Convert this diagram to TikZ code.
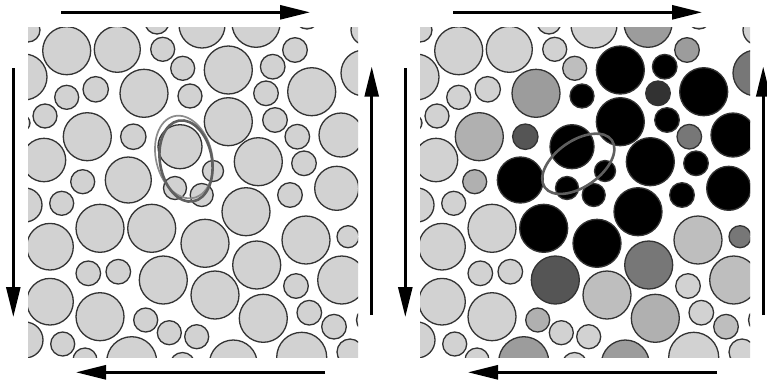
\documentclass[tikz,border=0pt]{standalone}
\usetikzlibrary{arrows.meta}
\definecolor{cL}{RGB}{210,210,210}
\definecolor{cK}{RGB}{0,0,0}
\definecolor{cD}{RGB}{85,85,85}
\definecolor{cDD}{RGB}{50,50,50}
\definecolor{cDT}{RGB}{119,119,119}
\definecolor{cM}{RGB}{156,156,156}
\definecolor{cMT}{RGB}{176,176,176}
\definecolor{cMS}{RGB}{190,190,190}
\definecolor{ringdark}{RGB}{95,95,95}
\definecolor{ringlight}{RGB}{140,140,140}
\begin{document}
\begin{tikzpicture}[x=1pt,y=-1pt,
  disk/.style={draw=black!80, line width=1.3pt},
  flow/.style={line width=2.6pt, -{Triangle[length=30pt,width=14pt]}},
  ring/.style={draw=ringdark, line width=2.6pt},
  thinring/.style={draw=ringlight, line width=1.7pt}]
\useasboundingbox (0,0) rectangle (767,384);
\fill[white] (0,0) rectangle (767,384);
\def\disks{28/30/12/L, 66.7/50.7/24/L, 117.3/49.3/23/L, 157/22/12/L, 162.7/49.3/12/L,
 182.7/68.3/12/MS, 202/25/23/L, 256/23.3/24/M, 307/17/12/L, 366/30/15/L, 295/50/12.3/M,
 24/77/23/L, 228.3/70/24/K, 272.7/66.7/12.3/K, 364/73/23/DT, 66.7/97.3/12/L,
 95.7/89.3/12.7/L, 144/93.3/24/M, 190/96/12/K, 266/93.3/12.3/DD, 311.7/91.7/24/K,
 45/116/12/L, 22/123/8/L, 87.3/136.7/24/MT, 133.3/136.7/12.7/D, 180/146.7/22/K,
 228.3/121.7/24/K, 275/120/12.3/K, 297.3/136.7/12.3/DT, 341/135/22/K, 44/160/21.7/L,
 82.7/181.7/12/MT, 128.3/180/23/K, 175/188/11.5/K, 201.7/195/11.5/K, 213/171/10.5/K,
 258.3/161.7/24/K, 304/163.3/12.3/K, 336.7/188.3/22/K, 61.7/203.3/12/L, 25/205/17/L,
 100/228.3/24/L, 151.7/228.3/24/K, 246/211.7/24/K, 290/195/12.3/K, 205/243.3/24/K,
 306/240/24/MS, 348/236.7/11/DT, 50/246.7/23.3/L, 88.3/273.3/12.3/L, 118.3/271.7/12.3/L,
 163.3/280/24/D, 256.7/265/24/DT, 341.7/280/24/MS, 296/286/12.3/L, 50/301.7/23.3/L,
 100/316.7/24/L, 215/295/24/MS, 145.7/320/12/MT, 169.3/332.7/12/L, 196.7/336.7/12/L,
 263.3/318.3/24/MT, 309.3/312.7/12.3/L, 334/326.7/12.3/MS, 369/320/12.5/L, 25/340/18/L,
 62.7/344/12/L, 85/360/12/L, 131.7/361.7/25/M, 182.5/365/12.5/L, 233.3/364/24/M,
 301.7/357.3/25/L, 350/352/13/L}
% left panel
\begin{scope}
  \clip (28,27) rectangle (358,357);
  \foreach \cx/\cy/\rr/\col in \disks {\draw[disk, fill=cL] (\cx,\cy) circle[radius=\rr pt];}
  \draw[thinring, rotate around={14:(184,157)}] (184,157) ellipse[x radius=28pt, y radius=42pt];
  \draw[ring, rotate around={10:(186,161)}] (186,161) ellipse[x radius=26pt, y radius=41pt];
\end{scope}
% right panel
\begin{scope}[shift={(392,0)}]
  \clip (28,27) rectangle (358,357);
  \foreach \cx/\cy/\rr/\col in \disks {\draw[disk, fill=c\col] (\cx,\cy) circle[radius=\rr pt];}
  \draw[ring, rotate around={35:(186.3,163.8)}] (186.3,163.8) ellipse[x radius=41pt, y radius=23pt];
\end{scope}
% arrows
\coordinate (ta1) at (61,12.3);   \coordinate (tb1) at (310,12.3);
\coordinate (la1) at (13.3,68);   \coordinate (lb1) at (13.3,317);
\coordinate (ba1) at (325,372.3); \coordinate (bb1) at (76,372.3);
\coordinate (ra1) at (371.7,315); \coordinate (rb1) at (371.7,66.7);
\coordinate (ta2) at (453,12.3);  \coordinate (tb2) at (702,12.3);
\coordinate (la2) at (405.3,68);  \coordinate (lb2) at (405.3,317);
\coordinate (ba2) at (717,372.3); \coordinate (bb2) at (468,372.3);
\coordinate (ra2) at (763.2,315); \coordinate (rb2) at (763.2,66.7);
\draw[flow] (ta1) -- (tb1);
\draw[flow] (la1) -- (lb1);
\draw[flow] (ba1) -- (bb1);
\draw[flow] (ra1) -- (rb1);
\draw[flow] (ta2) -- (tb2);
\draw[flow] (la2) -- (lb2);
\draw[flow] (ba2) -- (bb2);
\draw[flow] (ra2) -- (rb2);
\end{tikzpicture}
\end{document}
